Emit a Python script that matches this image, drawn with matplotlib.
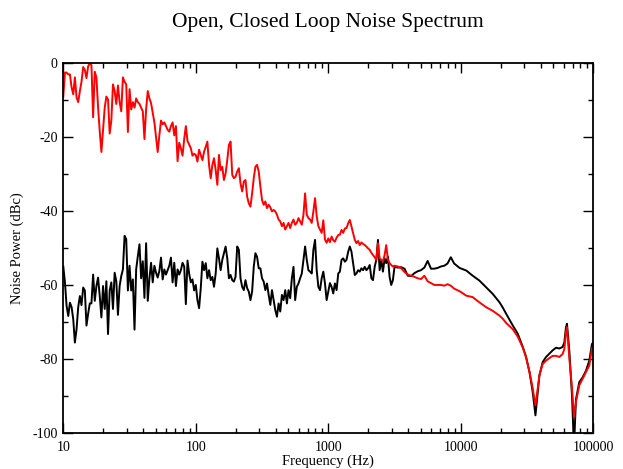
import matplotlib
matplotlib.use("Agg")
import matplotlib.pyplot as plt
from matplotlib.ticker import FixedLocator, FixedFormatter, MultipleLocator, LogLocator, NullFormatter

plt.rcParams['font.family'] = ['Liberation Serif', 'DejaVu Serif']
plt.rcParams['axes.unicode_minus'] = False

# frequency points (Hz), shared by both curves
freq_hz = [
    # 10 - 100 Hz
    10.00, 10.29, 10.59, 10.90, 11.22, 11.55, 11.89, 12.23, 12.59, 12.96, 13.34, 13.72, 14.13, 14.54,
    14.96, 15.40, 15.85, 16.31, 16.79, 17.28, 17.78, 18.30, 18.84, 19.39, 19.95, 20.54, 21.14, 21.75,
    22.39, 23.04, 23.71, 24.41, 25.12, 25.85, 26.61, 27.38, 28.18, 29.01, 29.85, 30.73, 31.62, 32.55,
    33.50, 34.47, 35.48, 36.52, 37.58, 38.68, 39.81, 40.97, 42.17, 43.40, 44.67, 45.97, 47.32, 48.70,
    50.12, 51.58, 53.09, 54.64, 56.23, 57.88, 59.57, 61.31, 63.10, 64.94, 66.83, 68.79, 70.79, 72.86,
    74.99, 77.18, 79.43, 81.75, 84.14, 86.60, 89.13, 91.73, 94.41, 97.16,
    # 100 - 1000 Hz
    100, 102.9, 105.9, 109.0, 112.2, 115.5, 118.9, 122.3, 125.9, 129.6, 133.4, 137.2, 141.3, 145.4,
    149.6, 154.0, 158.5, 163.1, 167.9, 172.8, 177.8, 183.0, 188.4, 193.9, 199.5, 205.4, 211.4, 217.5,
    223.9, 230.4, 237.1, 244.1, 251.2, 258.5, 266.1, 273.8, 281.8, 290.1, 298.5, 307.3, 316.2, 325.5,
    335.0, 344.7, 354.8, 365.2, 375.8, 386.8, 398.1, 409.7, 421.7, 434.0, 446.7, 459.7, 473.2, 487.0,
    501.2, 515.8, 530.9, 546.4, 562.3, 578.8, 595.7, 613.1, 631.0, 649.4, 668.3, 687.9, 707.9, 728.6,
    749.9, 771.8, 794.3, 817.5, 841.4, 866.0, 891.3, 917.3, 944.1, 971.6,
    # 1 - 3.2 kHz
    1000, 1029, 1059, 1090, 1122, 1155, 1189, 1223, 1259, 1296, 1334, 1372, 1413, 1454, 1496, 1540,
    1585, 1631, 1679, 1728, 1778, 1830, 1884, 1939, 1995, 2054, 2114, 2175, 2239, 2304, 2371, 2441,
    2512, 2585, 2661, 2738, 2818, 2901, 2985, 3073, 3162,
    # 3.3 - 9 kHz
    3350, 3550, 3760, 3980, 4220, 4470, 4730, 5010, 5310, 5620, 5960, 6310, 6680, 7080, 7500, 7940,
    8410, 8910,
    # 10 - 100 kHz
    9800, 11000, 12300, 13800, 15500, 17400, 19600, 20800, 22000, 24700, 26900, 29400, 31100, 33000,
    34900, 36600, 38100, 39200, 41500, 44000, 46600, 49400, 52300, 55400, 58700, 60500, 62200, 63300,
    66000, 69100, 71500, 74000, 78400, 83100, 88100, 93300, 97700, 100000,
]

# open loop noise (red), dBc
open_loop = [
    -9, -2.5, -2.5, -3, -3, -6.5, -8.4, -3.8, -9.2, -10.5,
    -7.5, -5, -1, -1.8, -4, -0.8, 0, -0.5, -14.6, -2.3,
    -3.8, -11.9, -18.4, -24, -18, -12, -9, -9.8, -19, -15.5,
    -5.7, -7.5, -11, -6, -10.5, -13, -3.8, -5, -5.7, -18.6,
    -7, -12.5, -10.5, -12, -9.5, -10.5, -11, -12, -13, -20.5,
    -12.5, -7.5, -9.5, -10.8, -13.5, -16, -20, -24, -19.5, -15.5,
    -16.5, -16, -17, -18, -18.5, -17, -16, -19.5, -17, -26.5,
    -21.5, -23, -25, -20.5, -17, -21, -22, -23, -25, -24.5,
    -24.8, -26.6, -23.4, -24.8, -26.2, -23.9, -22.6, -21.2, -27.5, -31.1,
    -27.5, -25.7, -28.9, -32.9, -24.8, -28.9, -28, -31.6, -29.8, -26.2,
    -22.1, -21.2, -30.2, -31.1, -30.7, -29.3, -28.4, -32.5, -34.7, -32,
    -31.6, -36.1, -37.9, -38.8, -35.2, -31.1, -28, -27.5, -29.3, -33.4,
    -37, -38.3, -37.4, -39.2, -38.3, -39, -40.1, -39.7, -40.1, -41,
    -42.3, -42.8, -44.1, -43.2, -45, -44.1, -43.2, -44.6, -43.2, -42.3,
    -43.7, -43.2, -41.9, -42.8, -43.7, -41, -35.2, -41, -41.9, -42.3,
    -43.2, -40.1, -36.5, -41.4, -44.1, -45, -45.9, -42.5, -47.7, -48.6,
    -47.4, -48.4, -46.9, -47.9, -48.3, -47.2, -46.5, -46.4, -45.1, -45.9,
    -44.7, -44.6, -43.3, -42.4, -44.2, -46, -47.8, -48.7, -48.1, -49.2,
    -48.5, -48.9, -49.2, -49.6, -50.1, -50.5, -51.3, -51.9, -52.5, -53.2,
    -48.7, -52.8, -53.2, -53.7, -51.9, -49.2, -53.2, -54.1, -54.6, -55,
    -54.8,
    -55, -55.5, -56.5, -57.2, -57.5, -57.8, -58.2, -58.4, -57.5, -59, -59.5, -60, -60, -60, -60.2, -59.8,
    -60.2, -61,
    -61.7, -62.9, -63.3, -64.7, -66, -67, -68.3, -69.2, -70.3, -72, -74, -77, -79.6, -83.5,
    -88, -92.6, -88, -84.5, -81.4, -80.5, -79.8, -79.2, -79.2, -79.5, -78.7, -77.3, -72.8, -71.4,
    -80, -88, -95.7, -91.7, -87.2, -85.4, -83.6, -81.8, -77.3, -76.5,
]

# closed loop noise (black), dBc
closed_loop = [
    -55, -59.3, -65.7, -68.4, -64.8, -66, -69.3, -75.6, -72, -66,
    -63, -65.5, -60.7, -61.5, -71, -67.8, -65, -65, -57.2, -64.3,
    -60.3, -58, -63, -68.8, -60.3, -66.5, -59, -73.3, -61.5, -59.3,
    -66.5, -56.7, -59, -68.1, -60.3, -57.6, -55.8, -46.7, -47.6, -61.5,
    -54.8, -61.5, -58.5, -72.1, -55.8, -52.2, -49, -58.2, -53.6, -63.5,
    -48.7, -64.3, -58.2, -54, -59.3, -54.8, -56.7, -58, -56.2, -52.6,
    -58.5, -55.8, -57.2, -56, -54.8, -52.6, -59.3, -54, -60.3, -55.8,
    -57.2, -56, -54, -55, -65.2, -53.4, -57, -59.3, -58.5, -61.5,
    -60, -64.1, -66.3, -60.9, -53.7, -56, -54.1, -58.2, -56, -58.7,
    -57.8, -60.5, -56.9, -50.1, -52.8, -56, -53.2, -51.4, -49.6, -52.8,
    -58.2, -57.3, -58.7, -59.1, -57.8, -49.6, -50.5, -58.2, -60.5, -61.4,
    -58.7, -60.9, -61.8, -64.1, -61.8, -55.1, -51.4, -52.4, -55.5, -55.5,
    -58.2, -59.1, -61.4, -59.6, -62.7, -65.4, -61.4, -64.1, -66.8, -68.6,
    -65, -67.2, -62.7, -64.1, -61.4, -65, -61.4, -63.6, -58.2, -55.1,
    -64.1, -60.5, -59.6, -58.2, -56.9, -53.2, -49.6, -53.2, -56, -56.4,
    -56.9, -50.5, -47.8, -56, -60.5, -61.4, -58.2, -56.4, -59.6, -64.1,
    -61.8, -59.5, -60.5, -62.3, -59.6, -61.4, -56.9, -56.4, -53.2, -52.8,
    -53.7, -53.2, -51, -49.6, -51, -54.1, -57.3, -56.9, -56, -56.4,
    -55.5, -56, -55.1, -56, -55.5, -54.6, -58.2, -58.7, -55.1, -53.2,
    -47.8, -56, -53.2, -56.4, -52.8, -54.1, -52.3, -57.8, -60, -58.7,
    -55.1,
    -55.3, -55.2, -55.6, -57.5, -57.6, -56.8, -56.3, -56, -55.3, -53.5, -55.6, -55.6, -55.4, -55, -54.8, -54.2,
    -52.5, -54.2,
    -55.4, -56.1, -57.5, -58.8, -60.6, -62.4, -64.7, -66.2, -67.8, -71, -73.2, -76.8, -79.5, -83.6,
    -89, -95.3, -89, -84.5, -80.9, -79.5, -78.6, -77.7, -77, -77.2, -76.8, -75.5, -71.5, -70.5,
    -78, -90, -104, -91, -86.3, -85, -83.2, -80.5, -76, -75.5,
]

x_ticks = [10, 100, 1000, 10000, 100000]
x_tick_labels = ['10', '100', '1000', '10000', '100000']
y_ticks = [-100, -80, -60, -40, -20, 0]
y_tick_labels = ['-100', '-80', '-60', '-40', '-20', '0']

fig = plt.figure(figsize=(6.23, 4.69), dpi=100)
ax = fig.add_axes([0.1016, 0.0774, 0.8507, 0.7876])

ax.plot(freq_hz, closed_loop, color='black', linewidth=1.4)
ax.plot(freq_hz, open_loop, color='#ff0000', linewidth=1.4)

ax.set_xscale('log')
ax.set_xlim(10, 100000)
ax.set_ylim(-100, 0)

ax.xaxis.set_major_locator(FixedLocator(x_ticks))
ax.xaxis.set_major_formatter(FixedFormatter(x_tick_labels))
ax.xaxis.set_minor_locator(LogLocator(base=10, subs=range(2, 10)))
ax.xaxis.set_minor_formatter(NullFormatter())
ax.yaxis.set_major_locator(FixedLocator(y_ticks))
ax.yaxis.set_major_formatter(FixedFormatter(y_tick_labels))
ax.yaxis.set_minor_locator(MultipleLocator(10))

ax.tick_params(which='both', direction='in', top=True, right=True, width=1.0, labelsize=10)
ax.tick_params(which='major', length=7)
ax.tick_params(which='minor', length=3.6)
ax.tick_params(axis='x', pad=6)
ax.tick_params(axis='y', pad=4)
for s in ax.spines.values():
    s.set_linewidth(1.3)

ax.set_xlabel('Frequency (Hz)', fontsize=10.5, labelpad=0)
ax.set_ylabel('Noise Power (dBc)', fontsize=10.5, labelpad=6)
fig.text(0.527, 0.953, 'Open, Closed Loop Noise Spectrum', fontsize=15.5, ha='center', va='center')

fig.savefig('out.png', dpi=100)
